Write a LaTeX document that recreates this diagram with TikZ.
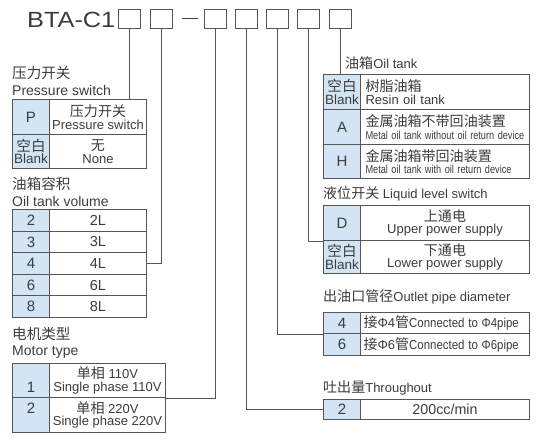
\documentclass[tikz,border=0pt]{standalone}
\usepackage{fontspec}
\usepackage{graphicx}
\setmainfont{Liberation Sans}
\newfontfamily\cjk[Scale=1.08]{Noto Sans CJK SC}
\newcommand\zh[1]{{\cjk #1}}
\newcommand\fs[2]{\fontsize{#1}{#2}\selectfont}
\definecolor{txt}{HTML}{3C3C3C}
\definecolor{linec}{HTML}{555555}
\definecolor{cellblue}{HTML}{D3E5F5}
\begin{document}
\begin{tikzpicture}[x=1pt,y=-1pt,
  every node/.style={text=txt},
  digit/.style={draw=linec, line width=0.9pt, minimum width=22pt, minimum height=19pt, inner sep=0pt, anchor=north west},
  cell/.style={draw=linec, line width=1pt, anchor=north west, inner sep=0pt, align=center, font=\fs{13}{12.5}},
  code/.style={cell, fill=cellblue, font=\fs{15}{13}},
  blank/.style={code, font=\fs{13.5}{12.5}},
  desc/.style={cell, fill=white},
  ldesc/.style={desc, align=left, text width=159pt, inner xsep=5pt},
  odesc/.style={desc, align=left, text width=163pt, inner xsep=3pt},
  lbl/.style={anchor=base west, inner sep=0pt, font=\fs{14}{14}},
  rlbl/.style={anchor=base west, inner sep=0pt, font=\fs{13}{13}},
  conn/.style={draw=linec, line width=0.8pt}]
\useasboundingbox (0,0) rectangle (548,442);

% title and code boxes
\node[anchor=base east, inner sep=0pt, font=\fs{22}{22}] (title) at (115.5,27) {\scalebox{1.15}[1]{BTA-C1}};
\node[digit] (b1) at (118,9) {};
\node[digit] (b2) at (150,9) {};
\node[inner sep=0pt] (dash) at (190,18.5) {\rule{16pt}{1.2pt}};
\node[digit] (b3) at (204,9) {};
\node[digit] (b4) at (235,9) {};
\node[digit] (b5) at (266,9) {};
\node[digit] (b6) at (297,9) {};
\node[digit] (b7) at (329,9) {};

% pressure switch
\node[lbl, font=\fs{13.5}{14}] (lpz) at (12,78) {\zh{压力开关}};
\node[lbl] (lpe) at (12,95) {Pressure switch};
\node[code, minimum width=37pt, minimum height=35pt] (p1c) at (12,99) {P};
\node[desc, minimum width=97pt, minimum height=35pt] (p1d) at (49,99) {\zh{压力开关}\\Pressure switch};
\node[blank, minimum width=37pt, minimum height=34pt] (p2c) at (12,134) {\zh{空白}\\Blank};
\node[desc, minimum width=97pt, minimum height=34pt] (p2d) at (49,134) {\zh{无}\\None};

% oil tank volume
\node[lbl, font=\fs{13.5}{14}] (lvz) at (12,189) {\zh{油箱容积}};
\node[lbl] (lve) at (12,206) {Oil tank volume};
\node[code, minimum width=37pt, minimum height=21.6pt] (v1c) at (12,209) {2};
\node[desc, minimum width=97pt, minimum height=21.6pt, font=\fs{14.5}{14}] (v1d) at (49,209) {2L};
\node[code, minimum width=37pt, minimum height=21.6pt] (v2c) at (12,230.6) {3};
\node[desc, minimum width=97pt, minimum height=21.6pt, font=\fs{14.5}{14}] (v2d) at (49,230.6) {3L};
\node[code, minimum width=37pt, minimum height=21.6pt] (v3c) at (12,252.2) {4};
\node[desc, minimum width=97pt, minimum height=21.6pt, font=\fs{14.5}{14}] (v3d) at (49,252.2) {4L};
\node[code, minimum width=37pt, minimum height=21.6pt] (v4c) at (12,273.8) {6};
\node[desc, minimum width=97pt, minimum height=21.6pt, font=\fs{14.5}{14}] (v4d) at (49,273.8) {6L};
\node[code, minimum width=37pt, minimum height=21.6pt] (v5c) at (12,295.4) {8};
\node[desc, minimum width=97pt, minimum height=21.6pt, font=\fs{14.5}{14}] (v5d) at (49,295.4) {8L};

% motor type
\node[lbl, font=\fs{13.5}{14}] (lmz) at (12,339) {\zh{电机类型}};
\node[lbl] (lme) at (12,355) {Motor type};
\node[code, minimum width=37pt, minimum height=34pt, text height=28pt, text depth=4pt] (m1c) at (12,363) {1};
\node[desc, minimum width=116pt, minimum height=34pt] (m1d) at (49,363) {\zh{单相} 110V\\Single phase 110V};
\node[code, minimum width=37pt, minimum height=35pt, text height=10pt, text depth=13pt] (m2c) at (12,397) {2};
\node[desc, minimum width=116pt, minimum height=35pt] (m2d) at (49,397) {\zh{单相} 220V\\Single phase 220V};

% oil tank
\node[rlbl] (lk) at (345,68) {\zh{油箱}Oil tank};
\node[blank, minimum width=37pt, minimum height=35pt] (k1c) at (323,74) {\zh{空白}\\Blank};
\node[ldesc, minimum height=35pt] (k1d) at (360,74) {\zh{树脂油箱}\\Resin oil tank};
\node[code, minimum width=37pt, minimum height=35pt] (k2c) at (323,109) {A};
\node[ldesc, minimum height=35pt] (k2d) at (360,109) {\zh{金属油箱不带回油装置}\\\scalebox{0.8}[1]{\fs{11.5}{12}Metal oil tank without oil return device}};
\node[code, minimum width=37pt, minimum height=34pt] (k3c) at (323,144) {H};
\node[ldesc, minimum height=34pt] (k3d) at (360,144) {\zh{金属油箱带回油装置}\\\scalebox{0.8}[1]{\fs{11.5}{12}Metal oil tank with oil return device}};

% liquid level switch
\node[rlbl] (ll) at (323,198) {\zh{液位开关} Liquid level switch};
\node[code, minimum width=37pt, minimum height=35pt] (l1c) at (323,205) {D};
\node[desc, minimum width=169pt, minimum height=35pt] (l1d) at (360,205) {\zh{上通电}\\Upper power supply};
\node[blank, minimum width=37pt, minimum height=33pt] (l2c) at (323,240) {\zh{空白}\\Blank};
\node[desc, minimum width=169pt, minimum height=33pt] (l2d) at (360,240) {\zh{下通电}\\Lower power supply};

% outlet pipe
\node[rlbl] (lo) at (323,301) {\zh{出油口管径}Outlet pipe diameter};
\node[code, minimum width=37pt, minimum height=21pt] (o1c) at (323,312) {4};
\node[odesc, minimum height=21pt] (o1d) at (360,312) {\zh{接}Φ4\zh{管}\scalebox{0.88}[1]{Connected to Φ4pipe}};
\node[code, minimum width=37pt, minimum height=22pt] (o2c) at (323,333) {6};
\node[odesc, minimum height=22pt] (o2d) at (360,333) {\zh{接}Φ6\zh{管}\scalebox{0.88}[1]{Connected to Φ6pipe}};

% throughput
\node[rlbl] (lt) at (323,392) {\zh{吐出量}Throughout};
\node[code, minimum width=37pt, minimum height=20pt] (t1c) at (323,399) {2};
\node[desc, minimum width=169pt, minimum height=20pt, font=\fs{14.3}{14}] (t1d) at (360,399) {200cc/min};

% connectors
\draw[conn] (b1.south) -- (b1.south |- p1d.north);
\draw[conn] (b2.south) |- (v3d.east);
\draw[conn] (b3.south) |- (m1d.south east);
\draw[conn] (b4.south) |- (t1c.west);
\draw[conn] (b5.south) |- (o1c.south west);
\draw[conn] (b6.south) |- (l1c.south west);
\draw[conn] (b7.south) -- (b7.south |- k1c.north);
\end{tikzpicture}
\end{document}
